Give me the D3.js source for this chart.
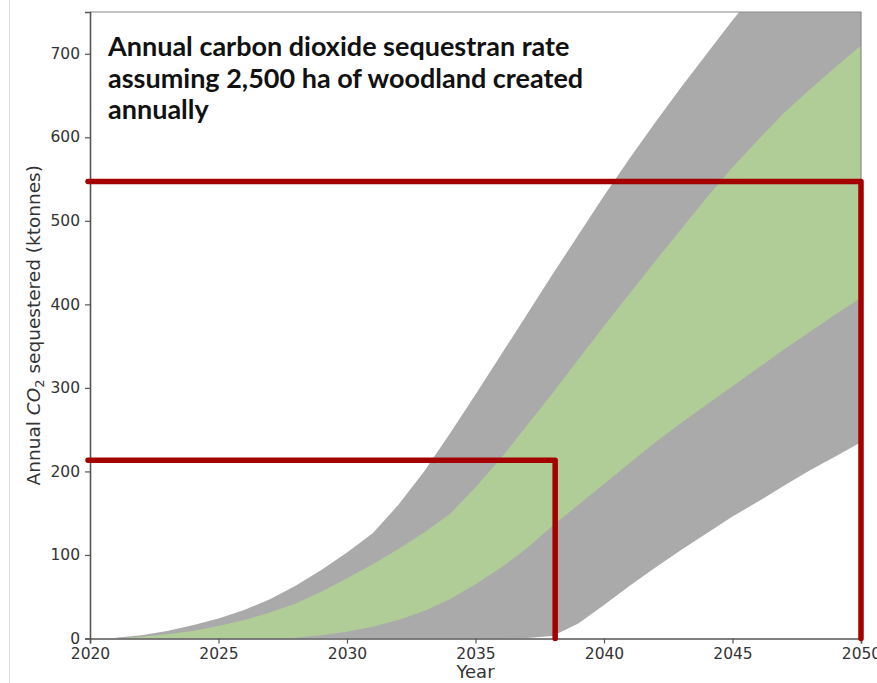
<!DOCTYPE html>
<html>
<head>
<meta charset="utf-8">
<script src="https://cdn.jsdelivr.net/npm/d3@7"></script>
<style>
  body { margin: 0; background: #fff; }
  svg { display: block; }
</style>
</head>
<body>
<script>
// annual data (ktonnes CO2 per year)
const years      = [2021,2022,2023,2024,2025,2026,2027,2028,2029,2030,2031,2032,2033,2034,2035,2036,2037,2038,2039,2040,2041,2042,2043,2044,2045,2046,2047,2048,2049,2050];
const outerHigh  = [1,4,9,16,24,34,47,63,82,103,126,160,200,245,292,340,388,436,483,530,575,618,660,700,740,778,815,850,885,918];
const innerHigh  = [0,2,5,9,15,22,31,42,56,72,89,107,127,149,181,216,255,294,334,374,413,452,490,528,564,597,629,657,684,710];
const innerLow   = [0,0,0,0,0,0,0,1,4,8,14,22,33,47,65,85,108,135,160,185,210,235,258,280,302,324,346,367,388,408];
const outerLow   = [0,0,0,0,0,0,0,0,0,0,0,0,0,0,0,0,0.5,3,18,40,63,85,106,126,146,164,183,201,218,235];

// the two red "target" markers
const markYears  = [2038.1, 2050];
const markValues = [213.5, 547];

const xTicks = [2020, 2025, 2030, 2035, 2040, 2045, 2050];
const yTicks = [0, 100, 200, 300, 400, 500, 600, 700];
const titleLines = ["Annual carbon dioxide sequestran rate", "assuming 2,500 ha of woodland created", "annually"];

const width = 877, height = 683;
const margin = {top: 12, right: 16, bottom: 44.5, left: 90};

const svg = d3.select("body").append("svg")
    .attr("width", width)
    .attr("height", height);

const x = d3.scaleLinear().domain([2020, 2050]).range([margin.left, width - margin.right]);
const y = d3.scaleLinear().domain([0, 750]).range([height - margin.bottom, margin.top]);

// faint screenshot border on the left
svg.append("line")
    .attr("x1", 9.5).attr("x2", 9.5)
    .attr("y1", 0).attr("y2", height)
    .attr("stroke", "#dcdcdc");

svg.append("defs").append("clipPath").attr("id", "plot")
    .append("rect")
    .attr("x", margin.left).attr("y", margin.top)
    .attr("width", width - margin.left - margin.right)
    .attr("height", height - margin.top - margin.bottom);

const rows = years.map((yr, i) => ({
    year: yr, oh: outerHigh[i], ih: innerHigh[i], il: innerLow[i], ol: outerLow[i]
}));

const bands = svg.append("g").attr("clip-path", "url(#plot)");

// grey outer band
bands.append("path")
    .datum(rows)
    .attr("fill", "#aaaaaa")
    .attr("d", d3.area().x(d => x(d.year)).y0(d => y(d.ol)).y1(d => y(d.oh)));

// green inner band
bands.append("path")
    .datum(rows)
    .attr("fill", "#b0cd97")
    .attr("d", d3.area().x(d => x(d.year)).y0(d => y(d.il)).y1(d => y(d.ih)));

// spines
const x0 = margin.left, x1 = width - margin.right, y0 = height - margin.bottom, y1 = margin.top;
svg.append("path")
    .attr("d", `M${x0},${y1}H${x1}V${y0}`)
    .attr("fill", "none").attr("stroke", "#8a8a8a").attr("stroke-width", 1.2);

// axes
const yAxis = svg.append("g")
    .attr("transform", `translate(${x0},0)`)
    .call(d3.axisLeft(y).tickValues(yTicks).tickSize(5).tickPadding(5));
const xAxis = svg.append("g")
    .attr("transform", `translate(0,${y0})`)
    .call(d3.axisBottom(x).tickValues(xTicks).tickFormat(d3.format("d")).tickSize(5).tickPadding(4));

[xAxis, yAxis].forEach(ax => {
    ax.select(".domain").attr("stroke", "#555").attr("stroke-width", 1.6);
    ax.selectAll(".tick line").attr("stroke", "#555").attr("stroke-width", 1.2);
    ax.selectAll("text")
        .attr("fill", "#333")
        .attr("font-family", "DejaVu Sans")
        .attr("font-size", 15.5);
});
yAxis.selectAll("text").attr("dy", "0.3em");

// red target lines
const marks = markYears.map((yr, i) => ({year: yr, value: markValues[i]}));
svg.append("g")
    .selectAll("path")
    .data(marks)
    .join("path")
    .attr("d", d => `M${x(2020) - 2},${y(d.value)}H${x(d.year)}V${y(0)}`)
    .attr("fill", "none")
    .attr("stroke", "#a40000")
    .attr("stroke-width", 5.5)
    .attr("stroke-linejoin", "round")
    .attr("stroke-linecap", "round");

// title
svg.append("text")
    .attr("x", 108)
    .attr("y", 56)
    .attr("font-family", "Lato")
    .attr("font-weight", "bold")
    .attr("font-size", 27)
    .attr("fill", "#111")
    .selectAll("tspan")
    .data(titleLines)
    .join("tspan")
    .attr("x", 108)
    .attr("dy", (d, i) => i === 0 ? 0 : 31.5)
    .text(d => d);

// axis labels
svg.append("text")
    .attr("x", (x0 + x1) / 2)
    .attr("y", 678)
    .attr("text-anchor", "middle")
    .attr("font-family", "DejaVu Sans")
    .attr("font-size", 18)
    .attr("fill", "#333")
    .text("Year");

const yl = svg.append("text")
    .attr("transform", `translate(40,${(y0 + y1) / 2}) rotate(-90)`)
    .attr("text-anchor", "middle")
    .attr("font-family", "DejaVu Sans")
    .attr("font-size", 18.5)
    .attr("fill", "#333");
yl.append("tspan").text("Annual ");
yl.append("tspan").attr("font-style", "italic").text("CO");
yl.append("tspan").attr("font-size", 13).attr("dy", 4).text("2");
yl.append("tspan").attr("dy", -4).text(" sequestered (ktonnes)");
</script>
</body>
</html>
